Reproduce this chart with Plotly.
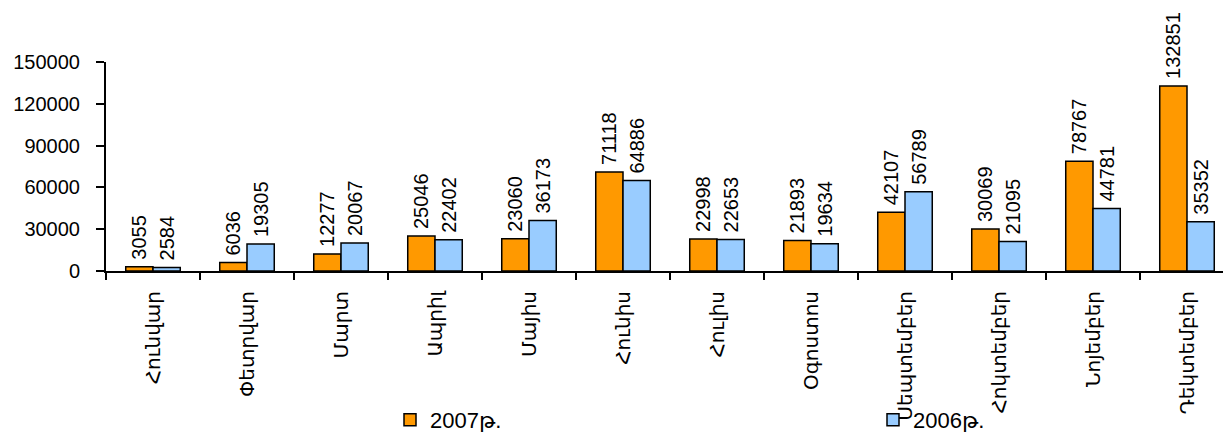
import plotly.graph_objects as go

months = ["Հունվար", "Փետրվար", "Մարտ", "Ապրիլ", "Մայիս", "Հունիս",
          "Հուլիս", "Օգոստոս", "Սեպտեմբեր", "Հոկտեմբեր", "Նոյեմբեր", "Դեկտեմբեր"]
values_2007 = [3055, 6036, 12277, 25046, 23060, 71118, 22998, 21893, 42107, 30069, 78767, 132851]
values_2006 = [2584, 19305, 20067, 22402, 36173, 64886, 22653, 19634, 56789, 21095, 44781, 35352]
series_names = ["2007թ.", "2006թ."]
y_ticks = [0, 30000, 60000, 90000, 120000, 150000]

FONT = "Liberation Sans, Arial, DejaVu Sans, sans-serif"

W, H = 1231, 426

fig = go.Figure()
for name, vals, color, leg in [(series_names[0], values_2007, "#FF9900", "legend"),
                               (series_names[1], values_2006, "#99CCFF", "legend2")]:
    fig.add_trace(go.Bar(
        x=months, y=vals, name=name, legend=leg,
        marker=dict(color=color, line=dict(color="black", width=1.5)),
        text=[str(v) for v in vals],
        texttemplate="\u2009%{text}",
        textposition="outside", textangle=-90, constraintext="none",
        textfont=dict(family=FONT, size=20, color="black"),
        cliponaxis=False,
    ))

legend_common = dict(orientation="h", yanchor="middle", xanchor="left",
                     xref="container", yref="container", y=(H - 412) / H,
                     font=dict(family=FONT, size=22, color="black"),
                     bgcolor="rgba(0,0,0,0)", borderwidth=0,
                     itemwidth=30, tracegroupgap=0)

fig.update_layout(
    width=W, height=H,
    margin=dict(l=98, r=5, t=54, b=163, autoexpand=False),
    paper_bgcolor="white", plot_bgcolor="white",
    barmode="group", bargap=0.42, bargroupgap=0,
    font=dict(family=FONT, size=20, color="black"),
    showlegend=True,
    legend=dict(x=382 / W, **legend_common),
    legend2=dict(x=865 / W, **legend_common),
)
fig.update_xaxes(
    type="category", showline=True, linecolor="black", linewidth=2,
    ticks="outside", tickson="boundaries", ticklen=7, tickwidth=2, tickcolor="black",
    tickangle=-90, tickfont=dict(family=FONT, size=20, color="black"),
    ticklabelstandoff=10, automargin=False,
    showgrid=False, zeroline=False,
)
fig.update_yaxes(
    range=[0, 150000], tickvals=y_ticks, ticktext=[str(t) for t in y_ticks],
    showline=True, linecolor="black", linewidth=2,
    ticks="outside", ticklen=8, tickwidth=2, tickcolor="black",
    tickfont=dict(family=FONT, size=20, color="black"),
    ticklabelstandoff=12, automargin=False,
    showgrid=False, zeroline=False,
)

fig.write_html("out.html")
